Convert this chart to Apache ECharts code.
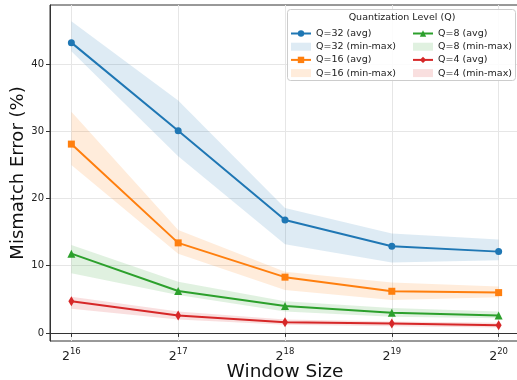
<!DOCTYPE html>
<html><head><meta charset="utf-8">
<script src="https://cdn.jsdelivr.net/npm/echarts@6/dist/echarts.min.js"></script>
<style>html,body{margin:0;padding:0;background:#fff}#c{width:517px;height:380px}</style>
</head><body><div id="c"></div>
<script>
const windowExp = [16, 17, 18, 19, 20];
const xTicks = [16, 17, 18, 19, 20];
const yTicks = [0, 10, 20, 30, 40];
const q32avg = [43.2, 30.1, 16.8, 12.9, 12.1];
const q32min = [41.9, 26.3, 13.2, 10.5, 10.8];
const q32max = [46.4, 34.6, 18.6, 14.8, 13.9];
const q16avg = [28.1, 13.4, 8.3, 6.2, 6.0];
const q16min = [25.0, 11.8, 6.4, 4.9, 5.3];
const q16max = [32.9, 15.3, 9.1, 7.5, 6.9];
const q8avg = [11.8, 6.25, 4.0, 3.0, 2.6];
const q8min = [8.9, 5.65, 3.2, 2.4, 2.2];
const q8max = [13.1, 7.6, 4.7, 3.7, 3.2];
const q4avg = [4.7, 2.6, 1.6, 1.4, 1.15];
const q4min = [3.6, 2.0, 1.2, 1.0, 0.8];
const q4max = [5.4, 3.2, 2.0, 1.7, 1.5];

const groups = [
  {q: 32, avg: q32avg, mn: q32min, mx: q32max, color: '#1f77b4', symbol: 'circle', size: 7},
  {q: 16, avg: q16avg, mn: q16min, mx: q16max, color: '#ff7f0e', symbol: 'rect', size: 7},
  {q: 8, avg: q8avg, mn: q8min, mx: q8max, color: '#2ca02c', symbol: 'triangle', size: 8},
  {q: 4, avg: q4avg, mn: q4min, mx: q4max, color: '#d62728', symbol: 'diamond', size: [6, 10]}
];
function rgba(hex, a) {
  const n = parseInt(hex.slice(1), 16);
  return `rgba(${n >> 16},${(n >> 8) & 255},${n & 255},${a})`;
}
const series = [];
groups.forEach(g => {
  const fill = rgba(g.color, 0.15);
  series.push({
    name: `Q=${g.q} (min-max)`, type: 'custom', silent: true, z: 1,
    color: fill, itemStyle: {color: fill},
    data: windowExp.map((x, i) => [x, g.mn[i], g.mx[i]]),
    encode: {x: 0, y: [1, 2]},
    renderItem: (params, api) => {
      if (params.dataIndex !== 0) return null;
      const upper = [], lower = [];
      for (let i = 0; i < windowExp.length; i++) {
        upper.push(api.coord([windowExp[i], g.mx[i]]));
        lower.push(api.coord([windowExp[i], g.mn[i]]));
      }
      const pts = upper.concat(lower.reverse());
      return {type: 'polygon', shape: {points: pts}, style: {fill: fill, stroke: null}};
    }
  });
});
groups.forEach(g => {
  series.push({
    name: `Q=${g.q} (avg)`, type: 'line',
    data: windowExp.map((x, i) => [x, g.avg[i]]),
    symbol: g.symbol, symbolSize: g.size, showSymbol: true,
    color: g.color, itemStyle: {color: g.color},
    lineStyle: {color: g.color, width: 2}, z: 3
  });
});
function legendItem(g, band) {
  if (band) return {name: `Q=${g.q} (min-max)`, icon: 'rect', itemStyle: {color: rgba(g.color, 0.15)}};
  return {name: `Q=${g.q} (avg)`};
}
const legendCommon = {
  orient: 'vertical', itemWidth: 20, itemHeight: 8, itemGap: 2.2,
  textStyle: {fontFamily: 'DejaVu Sans', fontSize: 9.5, color: '#222', lineHeight: 11},
  padding: 0, selectedMode: false, z: 20
};
const chart = echarts.init(document.getElementById('c'), null, {renderer: 'canvas'});
chart.setOption({
  animation: false,
  backgroundColor: '#fff',
  textStyle: {fontFamily: 'DejaVu Sans'},
  grid: {left: 50, right: -3, top: 5, bottom: 39, containLabel: false, outerBoundsMode: 'none',
         show: true, borderColor: '#333', borderWidth: 1, backgroundColor: 'transparent'},
  xAxis: {
    type: 'value', min: 15.8, max: 20.2,
    name: 'Window Size', nameLocation: 'middle', nameGap: 22, nameMoveOverlap: false,
    nameTextStyle: {fontSize: 18.5, color: '#111', fontFamily: 'DejaVu Sans'},
    axisLine: {show: true, lineStyle: {color: '#333', width: 1}},
    axisTick: {show: true, length: 4, inside: false, customValues: xTicks, lineStyle: {color: '#333'}},
    axisLabel: {
      customValues: xTicks, margin: 6,
      formatter: v => '{b|2}{s|' + v + '}',
      rich: {b: {fontSize: 12.5, color: '#222', fontFamily: 'DejaVu Sans', verticalAlign: 'bottom', lineHeight: 16},
             s: {fontSize: 8.5, color: '#222', fontFamily: 'DejaVu Sans', verticalAlign: 'top', lineHeight: 16}}
    },
    splitLine: {show: true, lineStyle: {color: '#e6e6e6', width: 1}}
  },
  yAxis: {
    type: 'value', min: -1.2, max: 48.8,
    name: 'Mismatch Error (%)', nameLocation: 'middle', nameGap: 23, nameRotate: 90, nameMoveOverlap: false,
    nameTextStyle: {fontSize: 18, color: '#111', fontFamily: 'DejaVu Sans'},
    axisLine: {show: true, lineStyle: {color: '#333', width: 1}},
    axisTick: {show: true, length: 4, customValues: yTicks, lineStyle: {color: '#333'}},
    axisLabel: {customValues: yTicks, margin: 6, fontSize: 10, color: '#222', fontFamily: 'DejaVu Sans'},
    splitLine: {show: true, lineStyle: {color: '#e6e6e6', width: 1}}
  },
  legend: [
    Object.assign({left: 290, top: 28, data: [legendItem(groups[0], false), legendItem(groups[0], true), legendItem(groups[1], false), legendItem(groups[1], true)]}, legendCommon),
    Object.assign({left: 412, top: 28, data: [legendItem(groups[2], false), legendItem(groups[2], true), legendItem(groups[3], false), legendItem(groups[3], true)]}, legendCommon)
  ],
  graphic: [
    {type: 'rect', z: 10, shape: {x: 287.5, y: 9.5, width: 228, height: 71, r: 3},
     style: {fill: 'rgba(255,255,255,0.85)', stroke: '#cccccc', lineWidth: 1}},
    {type: 'text', z: 11, x: 402, y: 18,
     style: {text: 'Quantization Level (Q)', fill: '#222', font: '9.5px "DejaVu Sans"', textAlign: 'center', textVerticalAlign: 'middle'}}
  ],
  series: series
});
</script></body></html>
